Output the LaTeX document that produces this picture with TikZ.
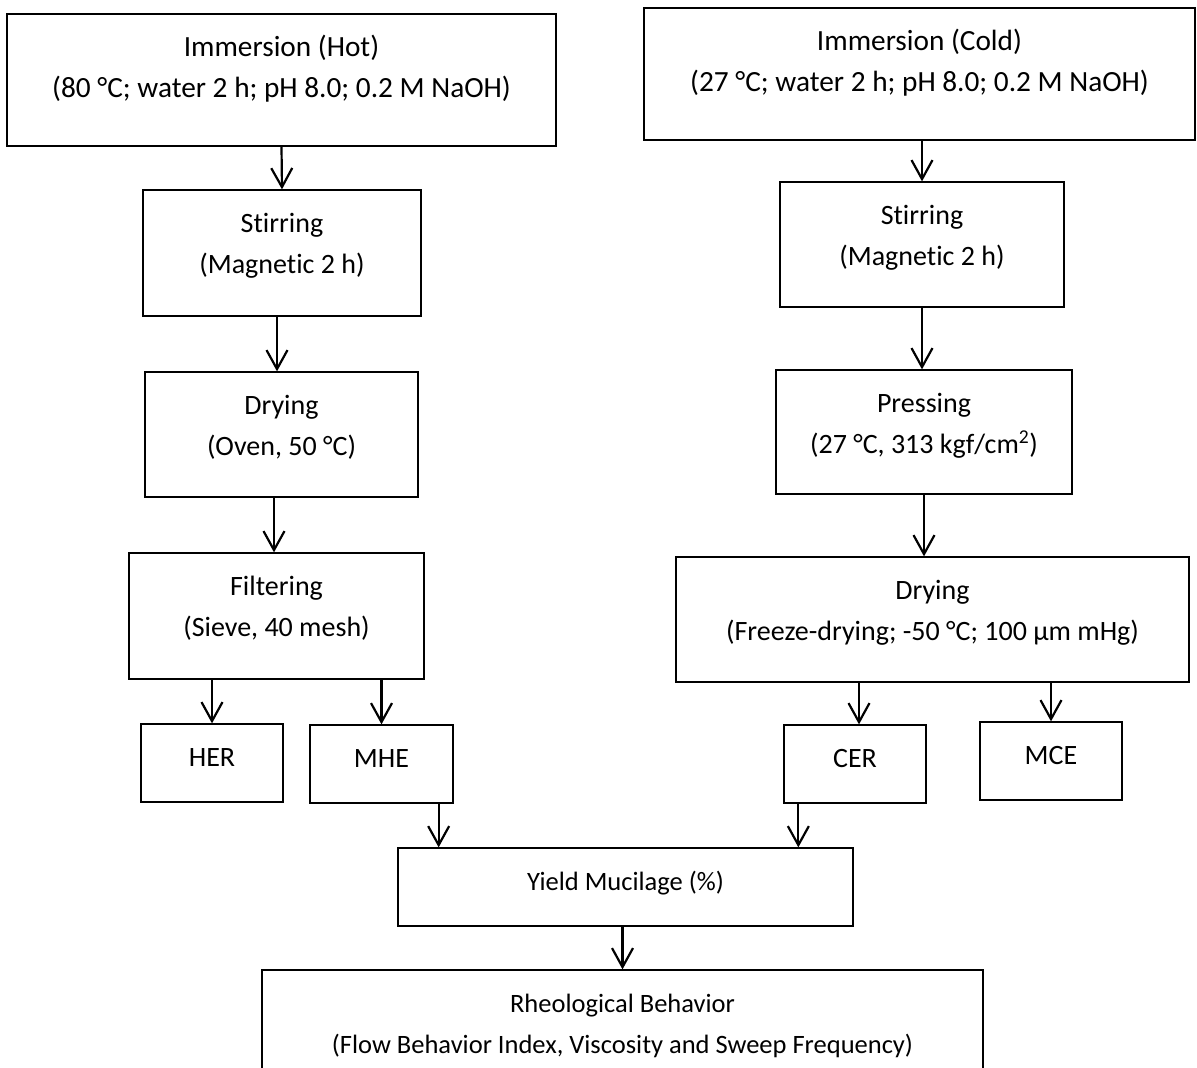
\documentclass[tikz,border=0pt]{standalone}
\usepackage{fontspec}
\setmainfont{Carlito}[Ligatures=NoCommon]
\usetikzlibrary{arrows.meta}

% box text: fixed box size, lines hung from the top edge
\newcommand{\boxtext}[3]{\parbox[c][#2][t]{#1}{\centering\rule{0pt}{42pt}#3}}

\begin{document}
\begin{tikzpicture}[x=1pt, y=-1pt,
    stage/.style={draw, line width=1.3pt, inner sep=0pt},
    flow/.style={-{Straight Barb[length=19pt, width=21pt]}, line width=2.2pt},
    bigtext/.style={font=\fontsize{29.3}{41}\selectfont},
    midtext/.style={font=\fontsize{28}{41}\selectfont},
    smalltext/.style={font=\fontsize{26.5}{41}\selectfont}]

    \clip (0,0) rectangle (1197,1068);

    % Hot branch
    \node[stage, bigtext] (hot) at (281.5,80) {\boxtext{549pt}{132pt}{Immersion (Hot)\\(80 °C; water 2 h; pH 8.0; 0.2 M NaOH)}};
    \node[stage, midtext] (stirH) at (282,253) {\boxtext{278pt}{126pt}{Stirring\\(Magnetic 2 h)}};
    \node[stage, midtext] (dryH) at (281.5,434.5) {\boxtext{273pt}{125pt}{Drying\\(Oven, 50 °C)}};
    \node[stage, midtext] (sieve) at (276.5,616) {\boxtext{295pt}{126pt}{Filtering\\(Sieve, 40 mesh)}};
    \node[stage, midtext] (her) at (212,763) {\boxtext{142pt}{78pt}{HER}};
    \node[stage, midtext] (mhe) at (381.5,764) {\boxtext{143pt}{78pt}{MHE}};

    % Cold branch
    \node[stage, bigtext] (cold) at (919.5,74) {\boxtext{551pt}{132pt}{Immersion (Cold)\\(27 °C; water 2 h; pH 8.0; 0.2 M NaOH)}};
    \node[stage, midtext] (stirC) at (922,244.5) {\boxtext{284pt}{125pt}{Stirring\\(Magnetic 2 h)}};
    \node[stage, midtext] (press) at (924,432) {\boxtext{296pt}{124pt}{Pressing\\(27 °C, 313 kgf/cm\textsuperscript{2})}};
    \node[stage, midtext] (dryC) at (932.5,619.5) {\boxtext{513pt}{125pt}{Drying\\(Freeze-drying; -50 °C; 100 µm mHg)}};
    \node[stage, midtext] (cer) at (855,764) {\boxtext{142pt}{78pt}{CER}};
    \node[stage, midtext] (mce) at (1051,761) {\boxtext{142pt}{78pt}{MCE}};

    % Joined steps
    \node[stage, smalltext] (yield) at (625.5,887) {\boxtext{455pt}{78pt}{Yield Mucilage (\%)}};
    \node[stage, smalltext] (rheo) at (622.5,1035) {\boxtext{721pt}{130pt}{Rheological Behavior\\(Flow Behavior Index, Viscosity and Sweep Frequency)}};

    % Draw arrows
    \draw[flow] (hot.south) -- (stirH.north);
    \draw[flow] ([xshift=-5pt]stirH.south) -- ([xshift=-5pt]stirH.south |- dryH.north);
    \draw[flow] ([xshift=-7.5pt]dryH.south) -- ([xshift=-7.5pt]dryH.south |- sieve.north);
    \draw[flow] (sieve.south -| her.north) -- (her.north);
    \draw[flow] (sieve.south -| mhe.north) -- (mhe.north);
    \draw[flow] ([xshift=-15pt]mhe.south east) -- ([xshift=-15pt]mhe.south east |- yield.north);

    \draw[flow] (cold.south -| stirC.north) -- (stirC.north);
    \draw[flow] (stirC.south) -- (stirC.south |- press.north);
    \draw[flow] (press.south) -- (press.south |- dryC.north);
    \draw[flow] ([xshift=4pt]dryC.south -| cer.north) -- ([xshift=4pt]cer.north);
    \draw[flow] (dryC.south -| mce.north) -- (mce.north);
    \draw[flow] ([xshift=15pt]cer.south west) -- ([xshift=15pt]cer.south west |- yield.north);

    \draw[flow] (yield.south -| rheo.north) -- (rheo.north);
\end{tikzpicture}
\end{document}
